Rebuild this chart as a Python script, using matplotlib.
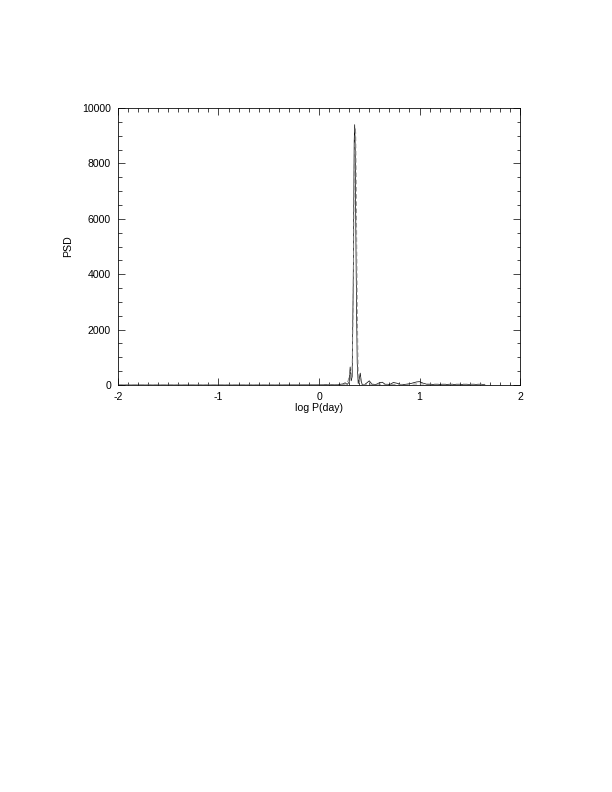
import matplotlib
matplotlib.use('Agg')
import matplotlib.pyplot as plt
from matplotlib.ticker import MultipleLocator

plt.rcParams.update({
    'font.family': ['Liberation Sans', 'DejaVu Sans'],
    'font.size': 10.5,
    'axes.linewidth': 0.8,
    'axes.unicode_minus': False,
})

# -------- Data --------
logp_solid = [-2.0, -1.0, -0.5, 0.0, 0.10, 0.15, 0.20, 0.24, 0.26, 0.28, 0.30,
              0.31, 0.32, 0.33, 0.34, 0.35, 0.355, 0.36, 0.37, 0.38, 0.39,
              0.40, 0.41, 0.42, 0.43, 0.45, 0.47, 0.50, 0.53, 0.56, 0.60,
              0.63, 0.66, 0.70, 0.74, 0.78, 0.82, 0.86, 0.92, 0.97, 1.00,
              1.04, 1.08, 1.15, 1.30, 1.50, 1.65]
psd_solid = [0, 0, 0, 5, 10, 5, 20, 40, 80, 20, 100,
             650, 150, 300, 3500, 8800, 9400, 8600, 4000, 800, 50,
             200, 430, 150, 10, 5, 60, 150, 20, 5, 80,
             100, 20, 10, 90, 60, 5, 20, 60, 110, 120,
             60, 20, 10, 15, 10, 10]

logp_dash = [-2.0, -0.5, 0.0, 0.20, 0.26, 0.29, 0.31, 0.32, 0.33, 0.34,
             0.35, 0.36, 0.365, 0.37, 0.38, 0.39, 0.40, 0.41, 0.42, 0.44,
             0.50, 0.60, 0.80, 1.00, 1.20, 1.40, 1.60, 1.65]
psd_dash = [0, 0, 0, 10, 30, 150, 500, 200, 600, 3000,
            7800, 9300, 9100, 7500, 3000, 300, 100, 300, 100, 10,
            30, 30, 20, 40, 30, 30, 30, 30]

fig = plt.figure(figsize=(8.5, 11), dpi=72)
ax = fig.add_axes([0.1928, 0.5139, 0.6569, 0.3497])

ax.plot(logp_solid, psd_solid, color='black', linewidth=0.7)
ax.plot(logp_dash, psd_dash, color='0.55', linewidth=0.9, linestyle=(0, (5, 3)))

ax.set_xlim(-2, 2)
ax.set_ylim(0, 10000)
ax.xaxis.set_major_locator(MultipleLocator(1))
ax.xaxis.set_minor_locator(MultipleLocator(0.1))
ax.yaxis.set_major_locator(MultipleLocator(2000))
ax.yaxis.set_minor_locator(MultipleLocator(500))
ax.tick_params(which='both', direction='in', top=True, right=True, width=0.7)
ax.tick_params(which='major', length=7)
ax.tick_params(axis='x', which='major', pad=7)
ax.tick_params(axis='y', which='major', pad=7)
ax.tick_params(which='minor', length=3.5)

ax.set_xlabel('log P(day)', labelpad=1)
ax.set_ylabel('PSD', labelpad=9)

fig.savefig('out.png', dpi=72)
